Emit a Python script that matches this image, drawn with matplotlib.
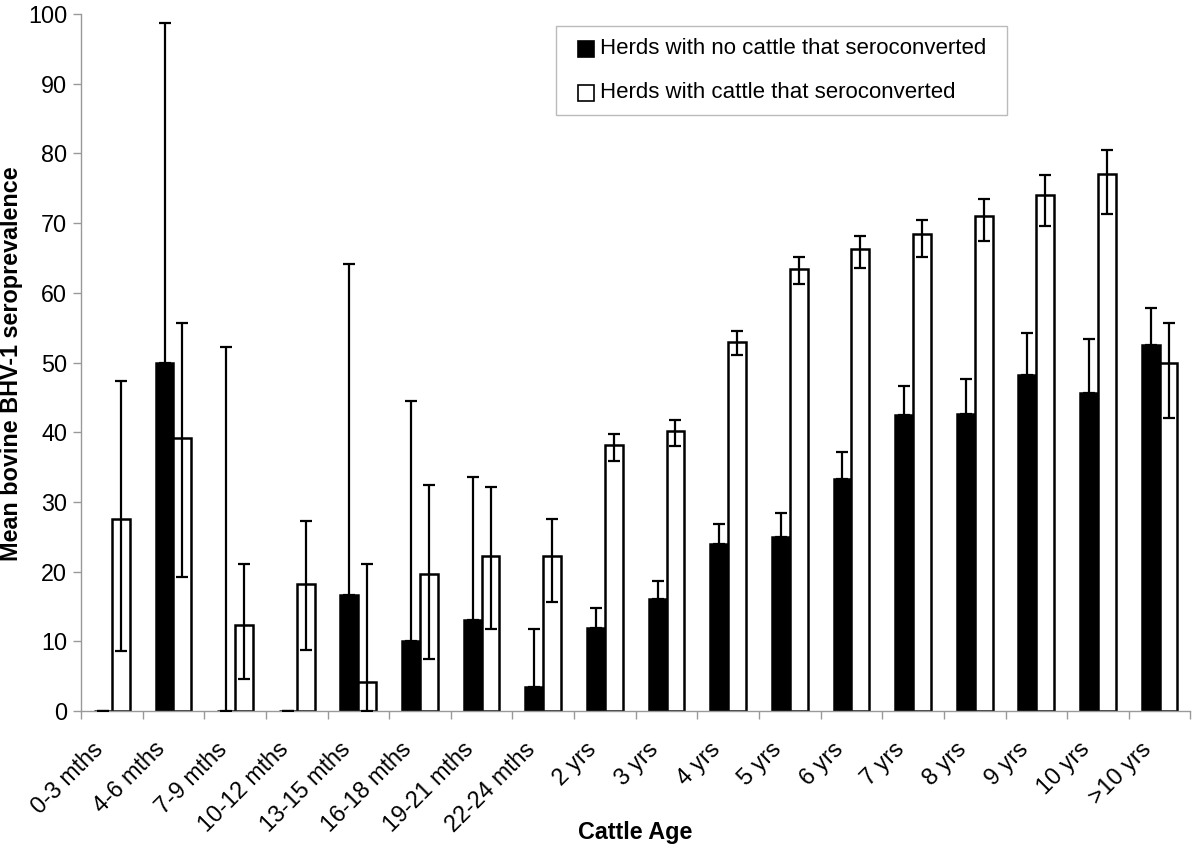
import matplotlib
matplotlib.use("Agg")
import matplotlib.pyplot as plt
from matplotlib.patches import Rectangle
from matplotlib.transforms import ScaledTranslation
import numpy as np

categories = ['0-3 mths', '4-6 mths', '7-9 mths', '10-12 mths', '13-15 mths',
              '16-18 mths', '19-21 mths', '22-24 mths', '2 yrs', '3 yrs', '4 yrs',
              '5 yrs', '6 yrs', '7 yrs', '8 yrs', '9 yrs', '10 yrs', '>10 yrs']

no_sero = [0, 50.0, 0, 0, 16.7, 10.0, 13.1, 3.4, 11.9, 16.1, 24.0, 24.9,
           33.3, 42.4, 42.6, 48.2, 45.6, 52.5]
no_sero_upper = [0, 98.7, 52.2, 0, 64.1, 44.5, 33.6, 11.7, 14.8, 18.7, 26.9, 28.4,
                 37.1, 46.7, 47.6, 54.3, 53.4, 57.8]

sero = [27.6, 39.1, 12.4, 18.2, 4.2, 19.7, 22.3, 22.2, 38.1, 40.2, 52.9, 63.4,
        66.3, 68.4, 71.0, 74.0, 77.0, 50.0]
sero_upper = [47.3, 55.6, 21.1, 27.2, 21.1, 32.4, 32.1, 27.6, 39.7, 41.8, 54.5, 65.1,
              68.2, 70.4, 73.4, 76.9, 80.5, 55.6]
sero_lower = [8.6, 19.2, 4.6, 8.8, 0.0, 7.5, 11.7, 15.6, 35.8, 38.0, 51.1, 61.3,
              63.5, 65.1, 67.5, 69.6, 71.3, 42.1]

label_no = 'Herds with no cattle that seroconverted'
label_yes = 'Herds with cattle that seroconverted'

plt.rcParams['font.family'] = ['Liberation Sans', 'DejaVu Sans']
FS = 16.8
W, H = 1200, 851

fig = plt.figure(figsize=(12, 8.51), dpi=100)
ax = fig.add_axes([0.0675, 0.1645, 0.9245, 0.819])

x = np.arange(len(categories))
w = 0.29
no_sero_a = np.array(no_sero)
sero_a = np.array(sero)

ax.bar(x - w / 2, no_sero_a, w, color='black', edgecolor='black', linewidth=1.8, zorder=2)
ax.bar(x + w / 2, sero_a, w, color='white', edgecolor='black', linewidth=1.8, zorder=2)

err_no = [np.zeros(len(no_sero)), np.array(no_sero_upper) - no_sero_a]
err_yes = [sero_a - np.array(sero_lower), np.array(sero_upper) - sero_a]
ax.errorbar(x - w / 2, no_sero_a, yerr=err_no, fmt='none', ecolor='black',
            elinewidth=1.6, capsize=4, capthick=1.6, zorder=3)
ax.errorbar(x + w / 2, sero_a, yerr=err_yes, fmt='none', ecolor='black',
            elinewidth=1.6, capsize=4, capthick=1.6, zorder=3)

ax.set_xlim(-0.5, len(categories) - 0.5)
ax.set_ylim(0, 100)
ax.set_yticks(np.arange(0, 101, 10))

ax.set_xticks(x)
ax.set_xticklabels(categories, rotation=45, ha='right', rotation_mode='anchor', fontsize=FS)
ax.set_xticks(np.arange(-0.5, len(categories), 1), minor=True)
ax.tick_params(axis='x', which='major', length=0, pad=12)
ax.tick_params(axis='x', which='minor', length=6, color='#999999', width=1)
ax.tick_params(axis='y', length=6, color='#999999', width=1, labelsize=FS, pad=4)

offset = ScaledTranslation(-20 / 100, -10 / 100, fig.dpi_scale_trans)
for lab in ax.get_xticklabels():
    lab.set_transform(lab.get_transform() + offset)

for s in ['top', 'right']:
    ax.spines[s].set_visible(False)
for s in ['left', 'bottom']:
    ax.spines[s].set_color('#999999')
    ax.spines[s].set_linewidth(1)

fig.text((81 + 1190) / 2 / W, 1 - 832 / H, 'Cattle Age', fontsize=FS,
         fontweight='bold', ha='center', va='center')
fig.text(0.0 / W, 1 - 364 / H, 'Mean bovine BHV-1 seroprevalence', fontsize=FS,
         fontweight='bold', ha='left', va='center', rotation=90)

# legend drawn in figure pixel coordinates
def fx(px):
    return px / W

def fy(py):
    return 1 - py / H

fig.patches.append(Rectangle((fx(556), fy(115)), fx(1007) - fx(556), fy(26) - fy(115),
                             transform=fig.transFigure, facecolor='white',
                             edgecolor='#bbbbbb', linewidth=1, zorder=5))
for row_y, face, lab in [(49, 'black', label_no), (93, 'white', label_yes)]:
    fig.patches.append(Rectangle((fx(578), fy(row_y + 8)), fx(594) - fx(578), fy(row_y - 8) - fy(row_y + 8),
                                 transform=fig.transFigure, facecolor=face,
                                 edgecolor='black', linewidth=1.2, zorder=6))
    fig.text(fx(600), fy(row_y), lab, fontsize=16, ha='left', va='center', zorder=7)

fig.savefig('out.png', dpi=100)
